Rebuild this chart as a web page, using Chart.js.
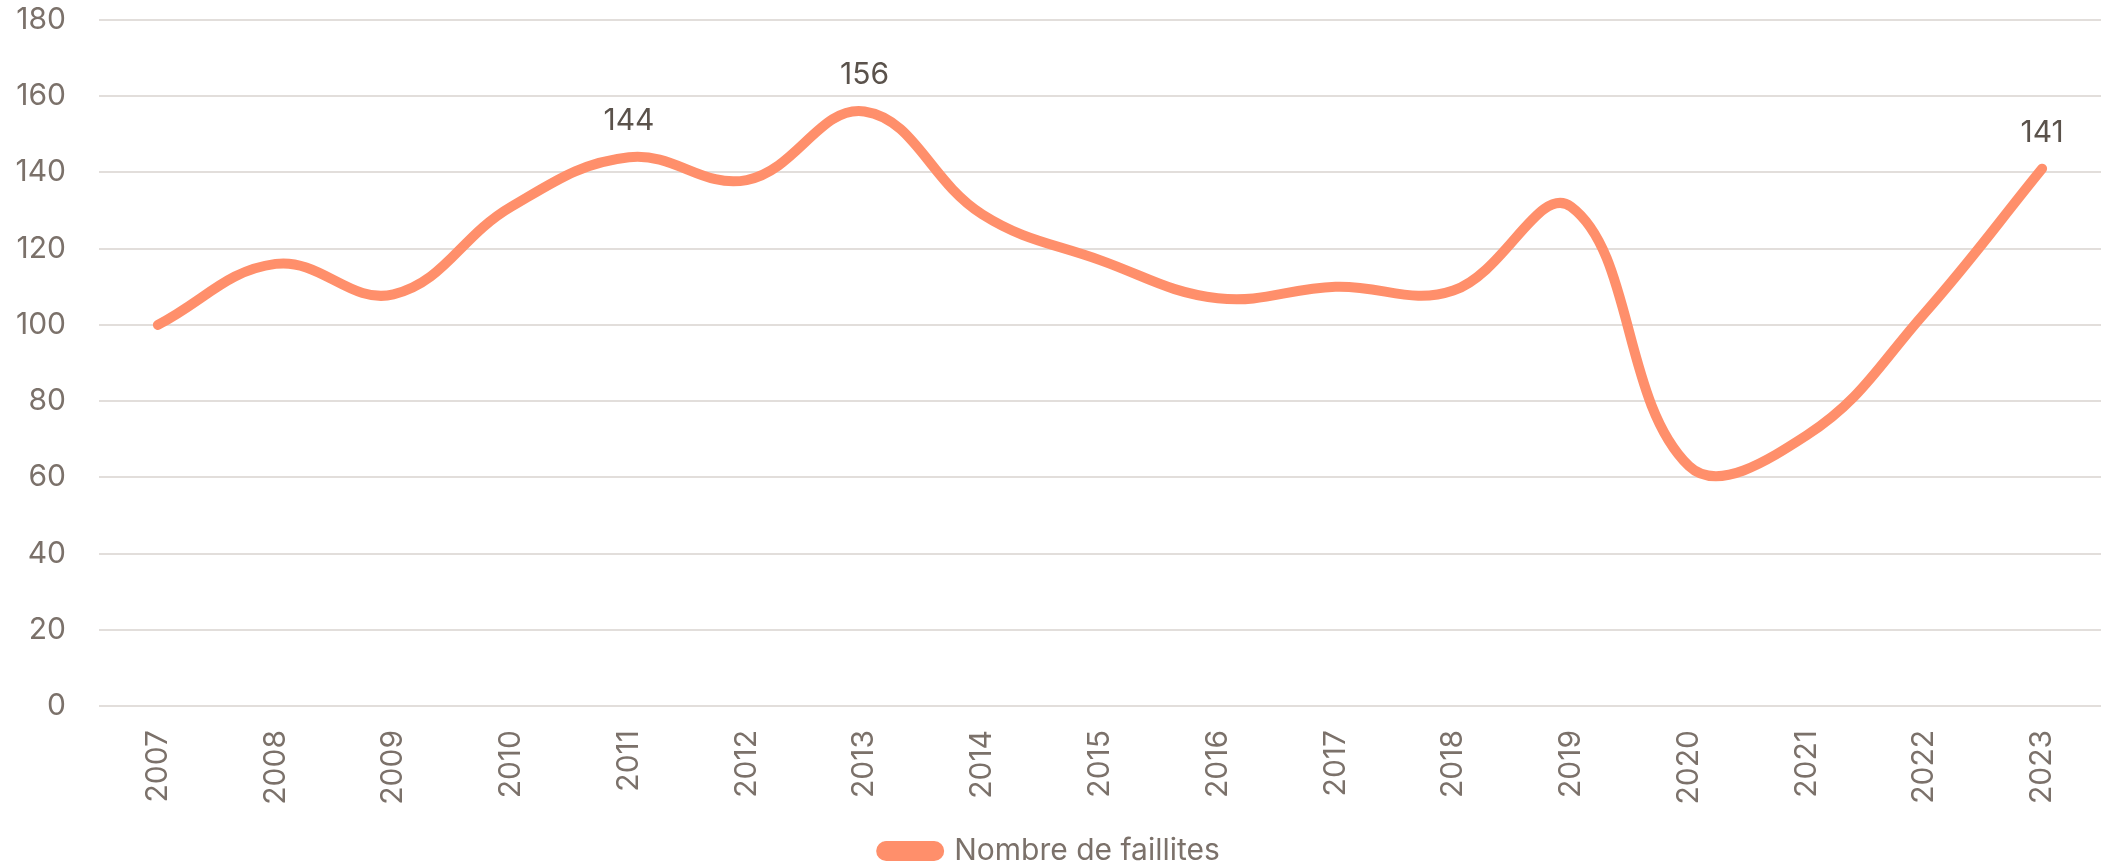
<!DOCTYPE html>
<html>
<head>
<meta charset="utf-8">
<script src="https://cdn.jsdelivr.net/npm/chart.js@4/dist/chart.umd.min.js"></script>
<style>
    body{margin:0;background:#fff;}
    #wrap{width:2104px;height:867px;}
</style>
</head>
<body>
<div id="wrap"><canvas id="myChart" width="2104" height="867"></canvas></div>
<script>
const years=['2007','2008','2009','2010','2011','2012','2013','2014','2015','2016','2017','2018','2019','2020','2021','2022','2023'];
const faillites=[100,116,108,131,144,138,156,129,117,107,110,109,131,63,71,103,141];
const labelledYears=['2011','2013','2023'];
const yTicks=[0,20,40,60,80,100,120,140,160,180];

const lineColor='#ff8f6b';
const tickColor='#7b716a';
const fontFamily='Inter, "Open Sans", sans-serif';

// draws the value above the few highlighted points, and the y tick labels
const valueLabels={
    id:'valueLabels',
    afterDatasetsDraw:function(chart){
        const ctx=chart.ctx;
        const meta=chart.getDatasetMeta(0);
        ctx.save();
        ctx.font='30px '+fontFamily;
        ctx.fillStyle='#5a524b';
        ctx.textAlign='center';
        ctx.textBaseline='middle';
        for(var i in years)
        {
            if(labelledYears.indexOf(years[i])<0) continue;
            const pt=meta.data[i];
            ctx.fillText(String(faillites[i]),pt.x,pt.y-36);
        }

        const yScale=chart.scales.y;
        ctx.fillStyle=tickColor;
        ctx.textAlign='right';
        for(var j in yTicks)
        {
            ctx.fillText(String(yTicks[j]),chart.chartArea.left-33,yScale.getPixelForValue(yTicks[j]));
        }
        ctx.restore();
    }
};

var ctx=document.getElementById('myChart').getContext('2d');
window.myChart=new Chart(ctx,{
    type:'line',
    data:{
        labels:years,
        datasets:[
            {
                data:faillites,
                label:'Nombre de faillites',
                borderColor:lineColor,
                backgroundColor:lineColor,
                borderWidth:10,
                borderCapStyle:'round',
                borderJoinStyle:'round',
                pointRadius:0,
                tension:0.4,
                fill:false
            }
        ]
    },
    options:{
        responsive:false,
        animation:false,
        layout:{padding:{top:20,right:3,left:0,bottom:-9}},
        scales:{
            x:{
                offset:true,
                grid:{display:false},
                border:{display:false},
                afterFit:function(s){ s.height=120; },
                ticks:{
                    color:tickColor,
                    font:{family:fontFamily,size:30},
                    minRotation:90,
                    maxRotation:90,
                    padding:16
                }
            },
            y:{
                min:0,
                max:180,
                afterBuildTicks:function(s){ s.ticks=yTicks.map(function(v){return {value:v};}); },
                afterFit:function(s){ s.width=99; },
                grid:{color:'#e2dedb',lineWidth:2,drawTicks:false},
                border:{display:false},
                ticks:{display:false}
            }
        },
        plugins:{
            tooltip:{enabled:false},
            legend:{
                position:'bottom',
                labels:{
                    color:tickColor,
                    font:{family:fontFamily,size:30},
                    boxWidth:58,
                    boxHeight:10,
                    useBorderRadius:true,
                    borderRadius:5,
                    padding:10
                }
            }
        }
    },
    plugins:[valueLabels]
});
</script>
</body>
</html>
